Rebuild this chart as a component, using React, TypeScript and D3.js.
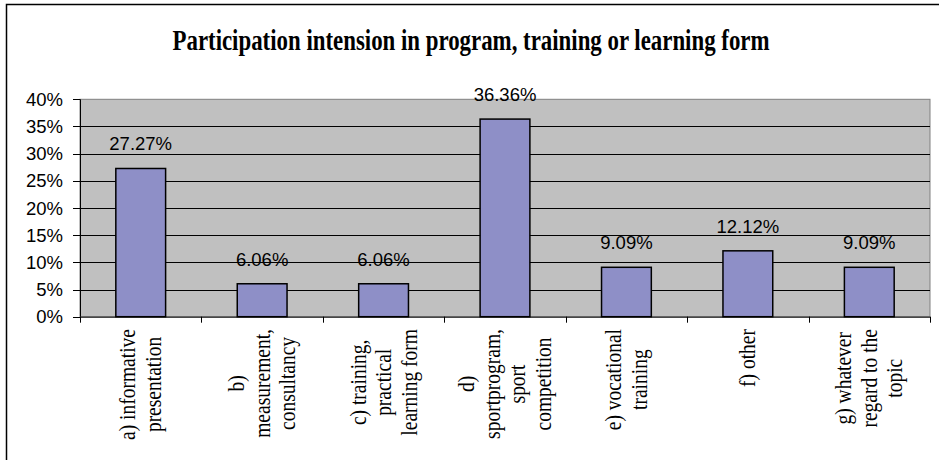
import { useEffect, useRef } from 'react';
import * as d3 from 'd3';

// data
const categories = ['a', 'b', 'c', 'd', 'e', 'f', 'g'];
const categoryLines = [
  ['a) informative', 'presentation'],
  ['b)', 'measurement,', 'consultancy'],
  ['c) training,', 'practical', 'learning form'],
  ['d)', 'sportprogram,', 'sport', 'competition'],
  ['e) vocational', 'training'],
  ['f) other'],
  ['g) whatever', 'regard to the', 'topic'],
];
const values = [27.27, 6.06, 6.06, 36.36, 9.09, 12.12, 9.09];
const yTicks = [0, 5, 10, 15, 20, 25, 30, 35, 40];

const W = 939;
const H = 460;

export default function App() {
  const ref = useRef<SVGSVGElement | null>(null);

  useEffect(() => {
    const svg = d3.select(ref.current);
    svg.selectAll('*').remove();

    const plot = { left: 80, right: 930, top: 99.3, bottom: 316.7 };

    // chart frame (only top and left edges show in the picture)
    svg.append('rect')
      .attr('x', 6.5).attr('y', 4.5)
      .attr('width', W).attr('height', H)
      .attr('fill', '#fff').attr('stroke', '#000').attr('stroke-width', 1.5);

    svg.append('text')
      .attr('x', 471).attr('y', 50)
      .attr('text-anchor', 'middle')
      .attr('font-family', '"Liberation Serif", "Times New Roman", serif')
      .attr('font-weight', 'bold')
      .attr('font-size', 29)
      .attr('textLength', 597)
      .attr('lengthAdjust', 'spacingAndGlyphs')
      .text('Participation intension in program, training or learning form');

    const x = d3.scaleBand<string>()
      .domain(categories)
      .range([plot.left, plot.right]);

    const y = d3.scaleLinear()
      .domain([0, 40])
      .range([plot.bottom, plot.top]);

    // plot area
    svg.append('rect')
      .attr('x', plot.left).attr('y', plot.top)
      .attr('width', plot.right - plot.left).attr('height', plot.bottom - plot.top)
      .attr('fill', '#c0c0c0').attr('stroke', '#808080').attr('stroke-width', 1);

    // gridlines
    svg.append('g')
      .selectAll('line')
      .data(yTicks.filter(t => t > 0 && t < 40))
      .join('line')
      .attr('x1', plot.left).attr('x2', plot.right)
      .attr('y1', d => Math.round(y(d)) + 0.5).attr('y2', d => Math.round(y(d)) + 0.5)
      .attr('stroke', '#000').attr('stroke-width', 1);

    // bars
    const barW = x.bandwidth() * 0.41;
    svg.append('g')
      .selectAll('rect')
      .data(values)
      .join('rect')
      .attr('x', (_, i) => x(categories[i])! + (x.bandwidth() - barW) / 2)
      .attr('y', d => y(d))
      .attr('width', barW)
      .attr('height', d => plot.bottom - y(d))
      .attr('fill', '#8e8fc7')
      .attr('stroke', '#000')
      .attr('stroke-width', 1.5);

    // value labels
    svg.append('g')
      .selectAll('text')
      .data(values)
      .join('text')
      .attr('x', (_, i) => x(categories[i])! + x.bandwidth() / 2)
      .attr('y', d => y(d) - 18)
      .attr('text-anchor', 'middle')
      .attr('font-family', '"Liberation Sans", Arial, sans-serif')
      .attr('font-size', 18.5)
      .text(d => d.toFixed(2) + '%');

    // y axis
    const yAxis = svg.append('g');
    yAxis.append('line')
      .attr('x1', plot.left + 0.5).attr('x2', plot.left + 0.5)
      .attr('y1', plot.top).attr('y2', plot.bottom)
      .attr('stroke', '#000');
    yAxis.selectAll('line.tick')
      .data(yTicks)
      .join('line')
      .attr('class', 'tick')
      .attr('x1', plot.left - 7).attr('x2', plot.left)
      .attr('y1', d => Math.round(y(d)) + 0.5).attr('y2', d => Math.round(y(d)) + 0.5)
      .attr('stroke', '#000');
    yAxis.selectAll('text')
      .data(yTicks)
      .join('text')
      .attr('x', 63)
      .attr('y', d => y(d) + 6.5)
      .attr('text-anchor', 'end')
      .attr('font-family', '"Liberation Sans", Arial, sans-serif')
      .attr('font-size', 18.5)
      .text(d => d + '%');

    // x axis
    const xAxis = svg.append('g');
    xAxis.append('line')
      .attr('x1', plot.left).attr('x2', plot.right)
      .attr('y1', plot.bottom + 0.5).attr('y2', plot.bottom + 0.5)
      .attr('stroke', '#000');
    const edges = [...categories.map(c => x(c)!), plot.right];
    xAxis.selectAll('line.tick')
      .data(edges)
      .join('line')
      .attr('class', 'tick')
      .attr('x1', d => Math.round(d) + 0.5).attr('x2', d => Math.round(d) + 0.5)
      .attr('y1', plot.bottom).attr('y2', plot.bottom + 6)
      .attr('stroke', '#000');

    // rotated category labels, lines centred on each other, block top near the axis
    const lineGap = 25.5;
    const labelTop = 329;
    categoryLines.forEach((lines, i) => {
      const cx = x(categories[i])! + x.bandwidth() / 2;
      const g = xAxis.append('g');
      const texts = lines.map(t =>
        g.append('text')
          .attr('text-anchor', 'middle')
          .attr('dominant-baseline', 'central')
          .attr('font-family', '"Liberation Serif", "Times New Roman", serif')
          .attr('font-size', 19.5)
          .text(t)
      );
      const maxLen = d3.max(texts, t => (t.node() as SVGTextElement).getComputedTextLength()) ?? 0;
      const cy = labelTop + maxLen / 2;
      texts.forEach((t, j) => {
        const dx = (j - (lines.length - 1) / 2) * lineGap;
        t.attr('transform', `translate(${cx + dx},${cy}) rotate(-90) scale(1,1.15)`);
      });
    });
  }, []);

  return (
    <svg
      ref={ref}
      width={W}
      height={H}
      style={{ position: 'absolute', left: 0, top: 0 }}
    ></svg>
  );
}
